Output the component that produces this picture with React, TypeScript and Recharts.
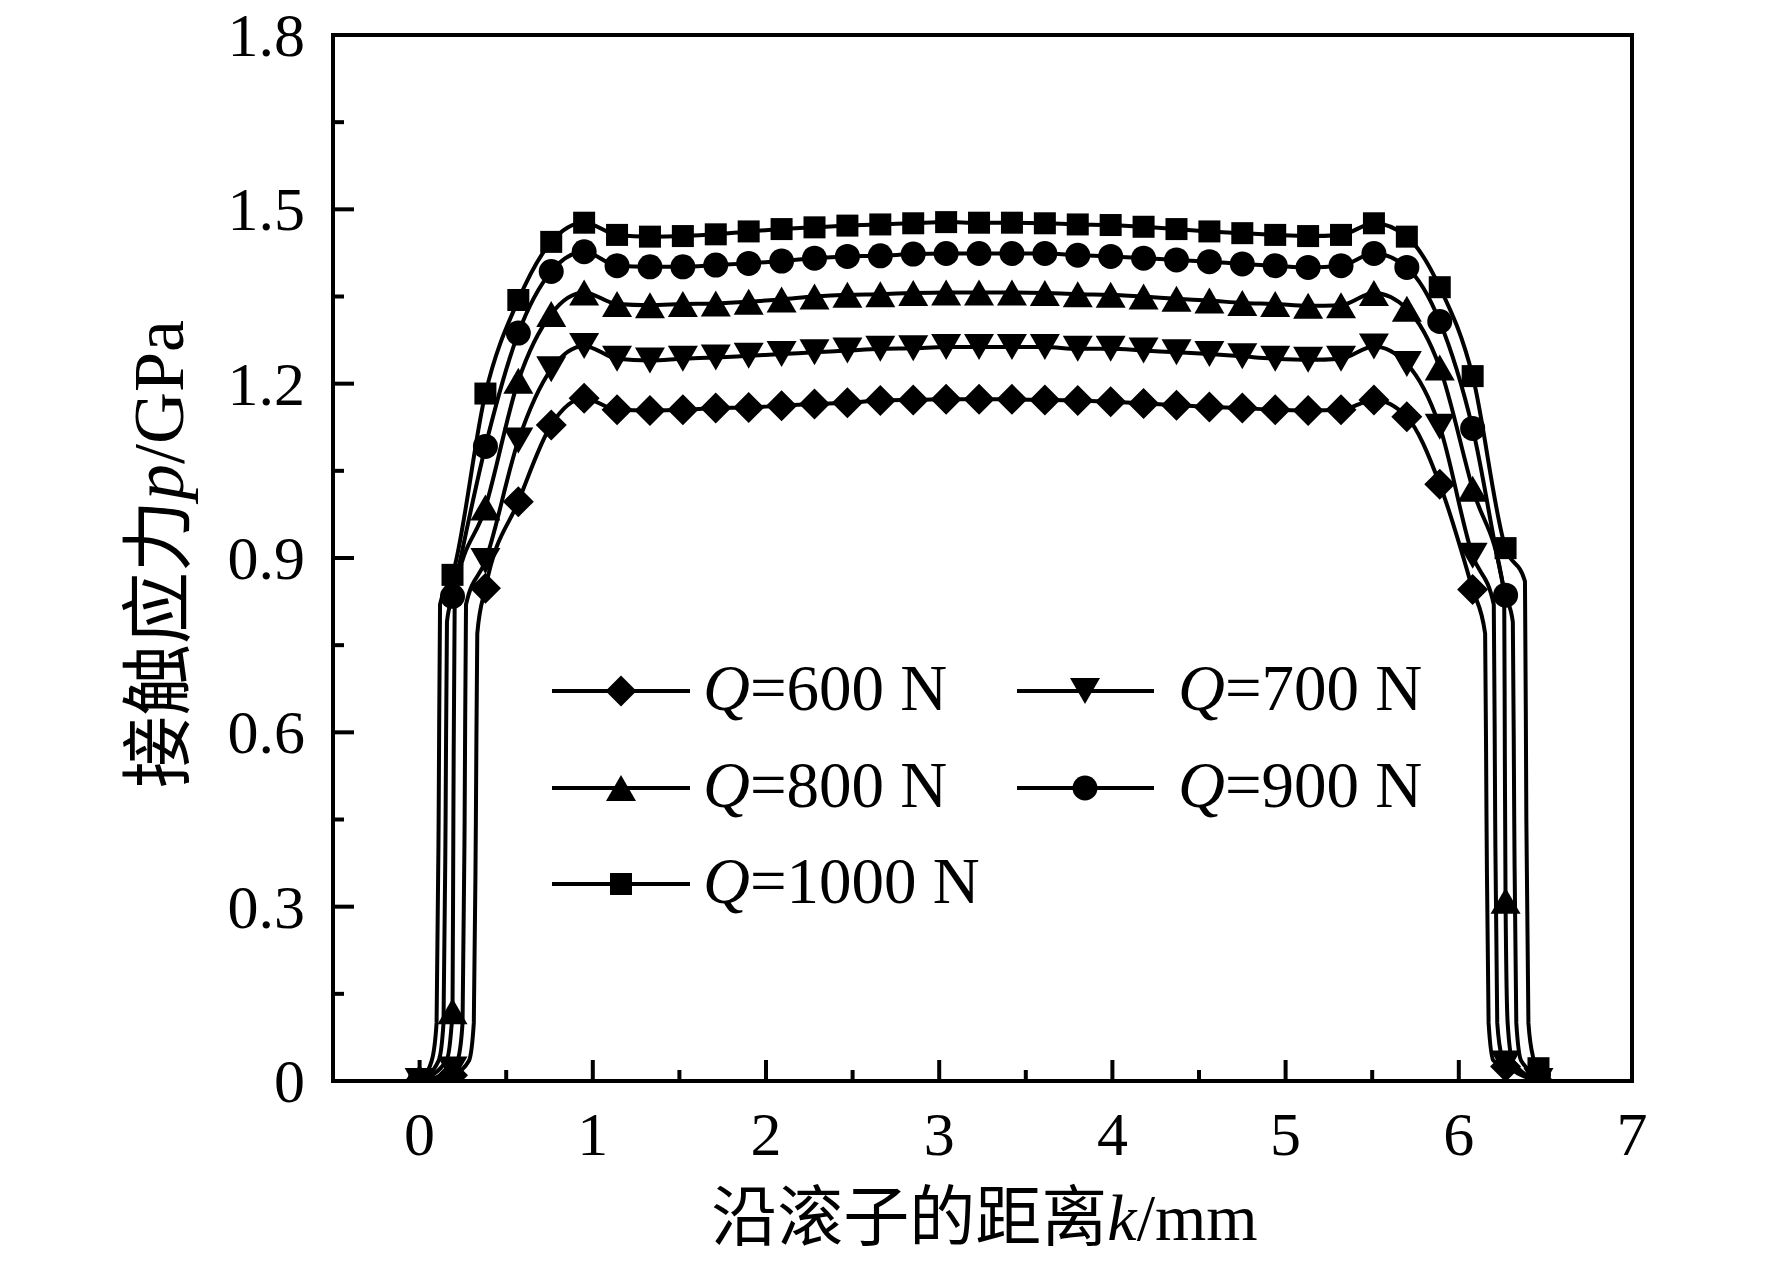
import React from 'react';
import { LineChart, Line, XAxis, YAxis, ReferenceArea, Legend } from 'recharts';

// distance along the roller (mm) of the marked points
const X_MM = [0, 0.19, 0.38, 0.57, 0.76, 0.95, 1.14, 1.33, 1.52, 1.71, 1.9, 2.09, 2.28, 2.47, 2.66, 2.85, 3.04, 3.23, 3.42, 3.61, 3.8, 3.99, 4.18, 4.37, 4.56, 4.75, 4.94, 5.13, 5.32, 5.51, 5.7, 5.89, 6.08, 6.27, 6.46];

// contact stress (GPa) at the marked points
const P600 = [0, 0.01, 0.848, 0.997, 1.129, 1.175, 1.155, 1.154, 1.155, 1.158, 1.159, 1.162, 1.165, 1.167, 1.171, 1.172, 1.173, 1.173, 1.173, 1.172, 1.171, 1.169, 1.166, 1.163, 1.16, 1.158, 1.155, 1.154, 1.155, 1.172, 1.143, 1.027, 0.846, 0.025, 0];
const P700 = [0, 0.02, 0.895, 1.102, 1.225, 1.265, 1.243, 1.24, 1.243, 1.245, 1.248, 1.251, 1.254, 1.257, 1.26, 1.261, 1.263, 1.263, 1.263, 1.263, 1.26, 1.26, 1.257, 1.254, 1.251, 1.247, 1.243, 1.241, 1.243, 1.264, 1.234, 1.126, 0.904, 0.03, 0];
const P800 = [0, 0.12, 0.987, 1.205, 1.32, 1.357, 1.337, 1.335, 1.337, 1.338, 1.341, 1.345, 1.35, 1.353, 1.354, 1.356, 1.357, 1.357, 1.357, 1.356, 1.354, 1.353, 1.35, 1.346, 1.343, 1.339, 1.337, 1.334, 1.335, 1.356, 1.329, 1.228, 1.019, 0.31, 0];
const P900 = [0, 0.834, 1.092, 1.287, 1.393, 1.427, 1.403, 1.401, 1.401, 1.404, 1.407, 1.411, 1.416, 1.419, 1.42, 1.423, 1.424, 1.424, 1.424, 1.424, 1.421, 1.419, 1.416, 1.413, 1.41, 1.406, 1.403, 1.4, 1.403, 1.424, 1.4, 1.307, 1.123, 0.836, 0.01];
const P1000 = [0, 0.871, 1.183, 1.344, 1.444, 1.477, 1.456, 1.453, 1.454, 1.457, 1.462, 1.466, 1.469, 1.472, 1.474, 1.476, 1.478, 1.477, 1.477, 1.476, 1.474, 1.473, 1.47, 1.466, 1.462, 1.459, 1.456, 1.454, 1.456, 1.476, 1.453, 1.366, 1.213, 0.917, 0.022];

// unmarked points of the curves at the steep edges [x mm, p GPa]
const EDGE600: [number, number][] = [[0.285, 0.035], [0.313, 0.1], [0.325, 0.45], [0.333, 0.77], [6.152, 0.77], [6.16, 0.45], [6.172, 0.1], [6.2, 0.035]];
const EDGE700: [number, number][] = [[0.22, 0.035], [0.248, 0.1], [0.26, 0.45], [0.268, 0.82], [6.202, 0.82], [6.21, 0.45], [6.222, 0.1], [6.25, 0.04]];
const EDGE800: [number, number][] = [[0.155, 0.035], [0.183, 0.09], [0.195, 0.45], [0.203, 0.84], [6.262, 0.84], [6.266, 0.55], [6.282, 0.1], [6.31, 0.035]];
const EDGE900: [number, number][] = [[0.11, 0.035], [0.138, 0.1], [0.15, 0.45], [0.158, 0.79], [6.312, 0.79], [6.32, 0.45], [6.332, 0.1], [6.36, 0.035]];
const EDGE1000: [number, number][] = [[0.07, 0.035], [0.098, 0.1], [0.11, 0.45], [0.118, 0.82], [6.382, 0.86], [6.39, 0.45], [6.402, 0.1], [6.43, 0.04]];

const SERIES_NAMES = ['Q=600 N', 'Q=700 N', 'Q=800 N', 'Q=900 N', 'Q=1000 N'];
const SERIES_SHAPES = ['diamond', 'down', 'up', 'circle', 'square'];

const X_TICKS = [0, 0.5, 1, 1.5, 2, 2.5, 3, 3.5, 4, 4.5, 5, 5.5, 6, 6.5, 7];
const Y_TICKS = [0, 0.15, 0.3, 0.45, 0.6, 0.75, 0.9, 1.05, 1.2, 1.35, 1.5, 1.65, 1.8];

const FONT = "'Liberation Serif', 'Times New Roman', 'Noto Sans CJK SC', serif";

type Row = { x: number; y: number; m: boolean };

function build(values: number[], edges: [number, number][]): Row[] {
  const rows: Row[] = values.map((y, i) => ({ x: X_MM[i], y, m: true }));
  edges.forEach(([x, y]) => rows.push({ x, y, m: false }));
  rows.sort((a, b) => a.x - b.x);
  return rows;
}

const DATASETS = [
  build(P600, EDGE600),
  build(P700, EDGE700),
  build(P800, EDGE800),
  build(P900, EDGE900),
  build(P1000, EDGE1000),
];

function markerShape(shape: string, cx: number, cy: number, key?: any) {
  switch (shape) {
    case 'square':
      return <rect key={key} x={cx - 11} y={cy - 11} width={22} height={22} fill="#000" />;
    case 'circle':
      return <circle key={key} cx={cx} cy={cy} r={12.5} fill="#000" />;
    case 'up':
      return <polygon key={key} points={`${cx},${cy - 13} ${cx - 15},${cy + 13} ${cx + 15},${cy + 13}`} fill="#000" />;
    case 'down':
      return <polygon key={key} points={`${cx},${cy + 13} ${cx - 15},${cy - 13} ${cx + 15},${cy - 13}`} fill="#000" />;
    default:
      return <polygon key={key} points={`${cx},${cy - 15.5} ${cx + 15.5},${cy} ${cx},${cy + 15.5} ${cx - 15.5},${cy}`} fill="#000" />;
  }
}

function makeDot(shape: string) {
  return (props: any) => {
    const { cx, cy, payload, index } = props;
    if (!payload || !payload.m || cx == null || cy == null) return <g key={`e${index}`} />;
    return markerShape(shape, cx, cy, `d${index}`);
  };
}

function XTick(props: any) {
  const { x, y, payload } = props;
  const v = payload.value;
  const major = Math.abs(v - Math.round(v)) < 1e-6;
  return (
    <g>
      <line x1={x} x2={x} y1={y} y2={y - (major ? 21 : 11)} stroke="#000" strokeWidth={4} />
      {major && (
        <text x={x} y={y + 74} textAnchor="middle" fontSize={62} fontFamily={FONT} fill="#000">
          {String(v)}
        </text>
      )}
    </g>
  );
}

function YTick(props: any) {
  const { x, y, payload } = props;
  const v = payload.value;
  const major = Math.round(v / 0.15) % 2 === 0;
  return (
    <g>
      <line x1={x} x2={x + (major ? 21 : 11)} y1={y} y2={y} stroke="#000" strokeWidth={4} />
      {major && (
        <text x={x - 28} y={y + 21} textAnchor="end" fontSize={62} fontFamily={FONT} fill="#000">
          {v === 0 ? '0' : v.toFixed(1)}
        </text>
      )}
    </g>
  );
}

function XTitle(props: any) {
  const vb = props.viewBox || { x: 325, y: 1073, width: 1299, height: 182 };
  const cx = vb.x + vb.width / 2 + 2;
  return (
    <text x={cx} y={vb.y + 159} textAnchor="middle" fontSize={66} fontFamily={FONT} fill="#000">
      沿滚子的距离<tspan fontStyle="italic">k</tspan>/mm
    </text>
  );
}

function YTitle(props: any) {
  const vb = props.viewBox || { x: 0, y: 27, width: 325, height: 1046 };
  const cx = vb.x + 150;
  const cy = vb.y + vb.height / 2 - 4;
  return (
    <text
      x={cx}
      y={cy}
      dy="0.35em"
      transform={`rotate(-90, ${cx}, ${cy})`}
      textAnchor="middle"
      fontSize={72}
      fontFamily={FONT}
      fill="#000"
    >
      接触应力<tspan fontStyle="italic">p</tspan>/GPa
    </text>
  );
}

const LEGEND_COLS = [
  { lineStart: 544, lineEnd: 682, marker: 613, text: 695 },
  { lineStart: 1009, lineEnd: 1146, marker: 1077, text: 1170 },
];
const LEGEND_ROWS = [683, 780, 876];

function LegendContent(props: any) {
  const payload: any[] = (props.payload || []).slice();
  payload.sort((a, b) => SERIES_NAMES.indexOf(a.value) - SERIES_NAMES.indexOf(b.value));
  return (
    <svg width={1764} height={1255} style={{ position: 'absolute', left: 0, top: 0, overflow: 'visible', pointerEvents: 'none' }}>
      {payload.map((entry, k) => {
        const idx = SERIES_NAMES.indexOf(entry.value);
        const col = LEGEND_COLS[k % 2];
        const y = LEGEND_ROWS[Math.floor(k / 2)];
        const name: string = entry.value;
        return (
          <g key={name}>
            <line x1={col.lineStart} x2={col.lineEnd} y1={y} y2={y} stroke="#000" strokeWidth={4} />
            {markerShape(SERIES_SHAPES[idx], col.marker, y)}
            <text x={col.text} y={y + 19} fontSize={65} fontFamily={FONT} fill="#000">
              <tspan fontStyle="italic">{name.charAt(0)}</tspan>
              {name.slice(1)}
            </text>
          </g>
        );
      })}
    </svg>
  );
}

export default function App() {
  return (
    <LineChart width={1764} height={1255} margin={{ top: 27, right: 140, bottom: 0, left: 0 }}>
      <XAxis
        dataKey="x"
        type="number"
        domain={[-0.5, 7]}
        ticks={X_TICKS}
        interval={0}
        allowDataOverflow
        height={182}
        axisLine={false}
        tickLine={false}
        tickSize={0}
        tickMargin={0}
        tick={<XTick />}
        label={<XTitle />}
      />
      <YAxis
        type="number"
        domain={[0, 1.8]}
        ticks={Y_TICKS}
        interval={0}
        allowDataOverflow
        width={325}
        axisLine={false}
        tickLine={false}
        tickSize={0}
        tickMargin={0}
        tick={<YTick />}
        label={<YTitle />}
      />
      <ReferenceArea x1={-0.5} x2={7} y1={0} y2={1.8} fill="none" stroke="#000" strokeWidth={4} ifOverflow="visible" />
      {DATASETS.map((rows, i) => (
        <Line
          key={SERIES_NAMES[i]}
          data={rows}
          dataKey="y"
          name={SERIES_NAMES[i]}
          type="monotone"
          stroke="#000"
          strokeWidth={4}
          dot={makeDot(SERIES_SHAPES[i])}
          activeDot={false}
          isAnimationActive={false}
        />
      ))}
      <Legend
        verticalAlign="top"
        align="left"
        content={<LegendContent />}
        wrapperStyle={{ position: 'absolute', left: 0, top: 0, width: 0, height: 0, overflow: 'visible', margin: 0, padding: 0 }}
      />
    </LineChart>
  );
}
